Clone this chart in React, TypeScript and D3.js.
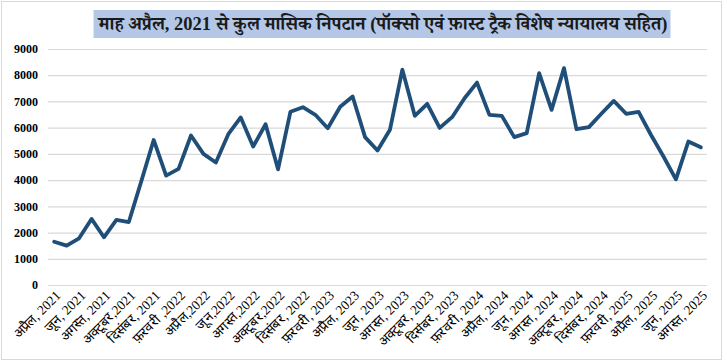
import React, { useEffect, useRef } from 'react';
import * as d3 from 'd3';

// monthly disposals, April 2021 .. August 2025
const months = [
  'अप्रैल, 2021', 'मई, 2021', 'जून, 2021', 'जुलाई, 2021', 'अगस्त, 2021', 'सितंबर, 2021',
  'अक्टूबर,2021', 'नवंबर, 2021', 'दिसंबर, 2021', 'जनवरी, 2022', 'फ़रवरी ,2022', 'मार्च, 2022',
  'अप्रैल,2022', 'मई,2022', 'जून,2022', 'जुलाई,2022', 'अगस्त,2022', 'सितंबर,2022',
  'अक्टूबर,2022', 'नवंबर,2022', 'दिसंबर, 2022', 'जनवरी, 2023', 'फ़रवरी, 2023', 'मार्च, 2023',
  'अप्रैल, 2023', 'मई, 2023', 'जून, 2023', 'जुलाई, 2023', 'अगस्त, 2023', 'सितंबर, 2023',
  'अक्टूबर, 2023', 'नवंबर, 2023', 'दिसंबर, 2023', 'जनवरी, 2024', 'फ़रवरी, 2024', 'मार्च, 2024',
  'अप्रैल, 2024', 'मई, 2024', 'जून, 2024', 'जुलाई, 2024', 'अगस्त, 2024', 'सितंबर, 2024',
  'अक्टूबर, 2024', 'नवंबर, 2024', 'दिसंबर, 2024', 'जनवरी, 2025', 'फ़रवरी, 2025', 'मार्च, 2025',
  'अप्रैल, 2025', 'मई, 2025', 'जून, 2025', 'जुलाई, 2025', 'अगस्त, 2025',
];

const disposals = [
  1650, 1500, 1780, 2520, 1820, 2480, 2400, 3950, 5530, 4170, 4430, 5700,
  5000, 4670, 5750, 6390, 5280, 6130, 4410, 6610, 6780, 6490, 5980, 6800,
  7190, 5640, 5130, 5920, 8210, 6450, 6910, 5990, 6400, 7120, 7720, 6490,
  6450, 5640, 5790, 8080, 6680, 8270, 5940, 6020, 6530, 7020, 6530, 6600,
  5720, 4900, 4030, 5470, 5250,
];

const yTicks = [0, 1000, 2000, 3000, 4000, 5000, 6000, 7000, 8000, 9000];

const title = 'माह अप्रैल, 2021 से कुल मासिक निपटान (पॉक्सो एवं फ़ास्ट ट्रैक विशेष न्यायालय सहित)';

const App: React.FC = () => {
  const svgRef = useRef<SVGSVGElement>(null);
  const width = 727;
  const height = 362;

  useEffect(() => {
    if (!svgRef.current) return;
    const svg = d3.select(svgRef.current);
    svg.selectAll('*').remove();

    const margin = { top: 49, right: 20, bottom: 77, left: 48 };
    const innerWidth = width - margin.left - margin.right;
    const innerHeight = height - margin.top - margin.bottom;

    // chart frame
    svg.append('rect')
      .attr('x', 1.5).attr('y', 1.5)
      .attr('width', 720).attr('height', 358)
      .attr('fill', '#ffffff')
      .attr('stroke', '#d9d9d9');

    // title with highlighted background
    const titleText = svg.append('text')
      .attr('x', 383)
      .attr('y', 30)
      .attr('text-anchor', 'middle')
      .style('font-family', '"Liberation Serif", "Times New Roman", "Noto Serif Devanagari", serif')
      .style('font-weight', 'bold')
      .style('font-size', '18.5px')
      .attr('fill', '#1a1a1a')
      .text(title);
    const bb = (titleText.node() as SVGTextElement).getBBox();
    svg.insert('rect', 'text')
      .attr('x', bb.x - 3).attr('y', 10)
      .attr('width', bb.width + 6).attr('height', 28)
      .attr('fill', '#b4c7e7');

    const g = svg.append('g')
      .attr('transform', `translate(${margin.left},${margin.top})`);

    const xScale = d3.scaleBand<string>()
      .domain(months)
      .range([0, innerWidth]);

    const yScale = d3.scaleLinear()
      .domain([0, 9000])
      .range([innerHeight, 0]);

    // grid lines
    g.append('g')
      .call(d3.axisLeft(yScale).tickValues(yTicks).tickSize(-innerWidth).tickFormat(() => ''))
      .call((s) => s.select('.domain').remove())
      .selectAll('line')
      .attr('stroke', '#d9d9d9')
      .attr('stroke-width', 1.2);

    // y labels
    g.append('g')
      .selectAll('text')
      .data(yTicks)
      .enter()
      .append('text')
      .attr('x', -10)
      .attr('y', (d) => yScale(d))
      .attr('dy', '0.35em')
      .attr('text-anchor', 'end')
      .style('font-family', '"Liberation Serif", "Times New Roman", serif')
      .style('font-weight', 'bold')
      .style('font-size', '12px')
      .attr('fill', '#000')
      .text((d) => String(d));

    // x labels, every second month, rotated
    g.append('g')
      .selectAll('text')
      .data(months.filter((_, i) => i % 2 === 0))
      .enter()
      .append('text')
      .attr('transform', (d) => `translate(${(xScale(d) as number) + xScale.bandwidth() / 2 + 4},${innerHeight + 8}) rotate(-45)`)
      .attr('text-anchor', 'end')
      .attr('dy', '0.35em')
      .style('font-family', '"Liberation Serif", "Times New Roman", serif')
      .style('font-size', '13.5px')
      .attr('fill', '#000')
      .text((d) => d);

    const line = d3.line<number>()
      .x((_, i) => (xScale(months[i]) as number) + xScale.bandwidth() / 2)
      .y((d) => yScale(d));

    g.append('path')
      .datum(disposals)
      .attr('fill', 'none')
      .attr('stroke', '#1f4e79')
      .attr('stroke-width', 3.8)
      .attr('stroke-linejoin', 'round')
      .attr('stroke-linecap', 'round')
      .attr('d', line);
  }, []);

  return (
    <div style={{ position: 'absolute', left: 0, top: 0 }}>
      <svg ref={svgRef} width={width} height={height} style={{ display: 'block' }} />
    </div>
  );
};

export default App;
